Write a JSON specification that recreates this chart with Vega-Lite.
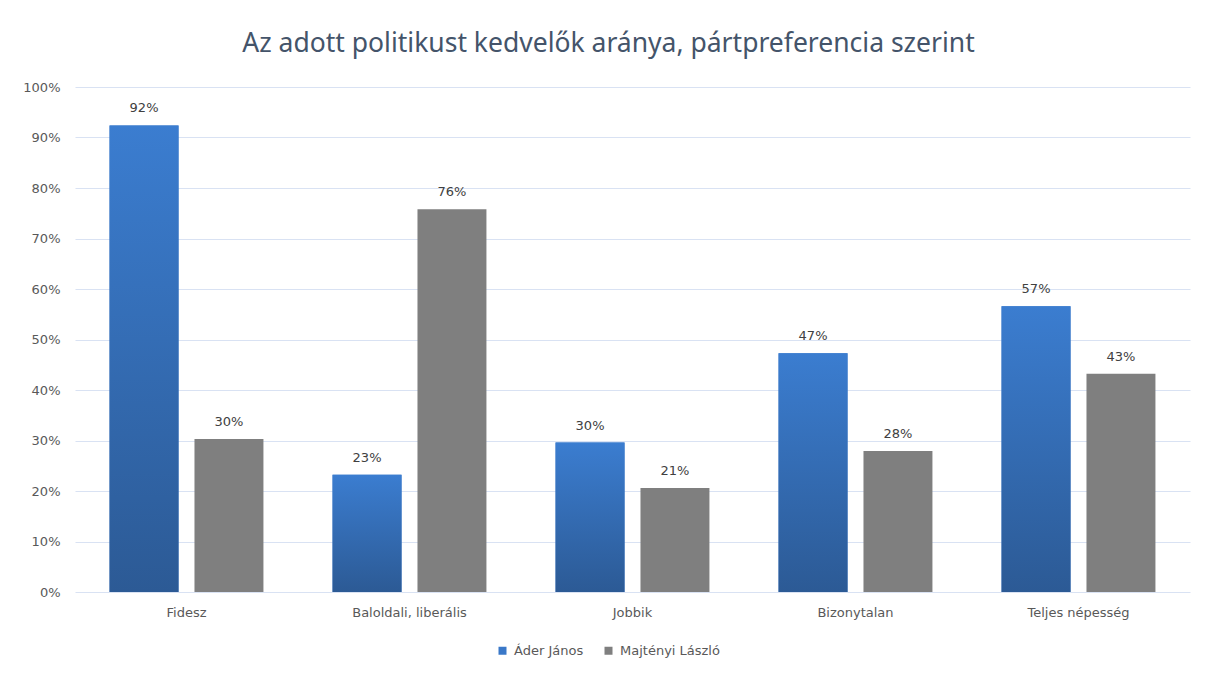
{
  "$schema": "https://vega.github.io/schema/vega-lite/v6.json",
  "width": 1115,
  "height": 505,
  "autosize": {"type": "none"},
  "padding": {"left": 75, "top": 87, "right": 15, "bottom": 81},
  "background": "white",
  "title": {
    "text": "Az adott politikust kedvelők aránya, pártpreferencia  szerint",
    "font": "Noto Sans",
    "fontSize": 26.5,
    "fontWeight": "normal",
    "color": "#44546A",
    "anchor": "middle",
    "frame": "group",
    "dx": -24,
    "offset": 24
  },
  "data": {
    "values": [
      {"cat": "Fidesz", "person": "Áder János", "value": 0.924},
      {"cat": "Fidesz", "person": "Majtényi László", "value": 0.303},
      {"cat": "Baloldali, liberális", "person": "Áder János", "value": 0.232},
      {"cat": "Baloldali, liberális", "person": "Majtényi László", "value": 0.758},
      {"cat": "Jobbik", "person": "Áder János", "value": 0.296},
      {"cat": "Jobbik", "person": "Majtényi László", "value": 0.206},
      {"cat": "Bizonytalan", "person": "Áder János", "value": 0.473},
      {"cat": "Bizonytalan", "person": "Majtényi László", "value": 0.279},
      {"cat": "Teljes népesség", "person": "Áder János", "value": 0.566},
      {"cat": "Teljes népesség", "person": "Majtényi László", "value": 0.432}
    ]
  },
  "encoding": {
    "x": {
      "field": "cat",
      "type": "nominal",
      "sort": null,
      "scale": {"paddingInner": 0.31, "paddingOuter": 0.155},
      "axis": {
        "title": null,
        "labelAngle": 0,
        "labelFont": "DejaVu Sans",
        "labelFontSize": 13,
        "labelColor": "#595959",
        "labelPadding": 14,
        "ticks": false,
        "domain": false
      }
    },
    "xOffset": {
      "field": "person",
      "type": "nominal",
      "sort": ["Áder János", "Majtényi László"],
      "scale": {"paddingInner": 0.188, "paddingOuter": 0}
    },
    "y": {
      "field": "value",
      "type": "quantitative",
      "scale": {"domain": [0, 1], "nice": false},
      "axis": {
        "title": null,
        "format": ".0%",
        "values": [0, 0.1, 0.2, 0.3, 0.4, 0.5, 0.6, 0.7, 0.8, 0.9, 1],
        "labelFont": "DejaVu Sans",
        "labelFontSize": 13,
        "labelColor": "#595959",
        "labelPadding": 15,
        "ticks": false,
        "domain": false,
        "gridColor": "#D9E2F3",
        "gridWidth": 1.2
      }
    }
  },
  "layer": [
    {
      "mark": {"type": "bar"},
      "encoding": {
        "color": {
          "field": "person",
          "type": "nominal",
          "sort": ["Áder János", "Majtényi László"],
          "scale": {"range": ["#3A78C8", "#7F7F7F"]},
          "legend": {
            "title": null,
            "orient": "none",
            "legendX": 421,
            "legendY": 557,
            "direction": "horizontal",
            "symbolType": "square",
            "symbolSize": 64,
            "symbolStrokeWidth": 0,
            "labelFont": "DejaVu Sans",
            "labelFontSize": 13,
            "labelColor": "#595959",
            "columnPadding": 18,
            "labelOffset": 5
          }
        }
      }
    },
    {
      "transform": [{"filter": "datum.person === 'Áder János'"}],
      "mark": {
        "type": "bar",
        "color": {
          "gradient": "linear",
          "x1": 0, "y1": 0, "x2": 0, "y2": 1,
          "stops": [
            {"offset": 0, "color": "#3B7DD0"},
            {"offset": 1, "color": "#2C5A95"}
          ]
        }
      }
    },
    {
      "mark": {
        "type": "text",
        "baseline": "alphabetic",
        "dy": -13,
        "font": "DejaVu Sans",
        "fontSize": 13,
        "color": "#404040"
      },
      "encoding": {
        "text": {"field": "value", "type": "quantitative", "format": ".0%"}
      }
    }
  ],
  "config": {"view": {"stroke": null}}
}
